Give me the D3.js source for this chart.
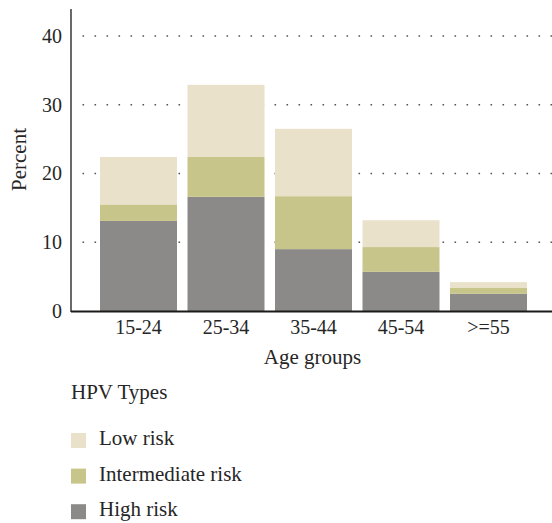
<!DOCTYPE html>
<html>
<head>
<meta charset="utf-8">
<script src="https://cdn.jsdelivr.net/npm/d3@7"></script>
<style>
  html, body { margin: 0; padding: 0; background: #fff; }
  svg { display: block; }
  text { font-family: "Liberation Serif", "Times New Roman", serif; fill: #262626; }
</style>
</head>
<body>
<svg id="chart" width="552" height="523"></svg>
<script>
const categories = ["15-24", "25-34", "35-44", "45-54", ">=55"];
const highRisk = [13.1, 16.6, 9.0, 5.7, 2.5];
const intermediateRisk = [2.4, 5.8, 7.7, 3.6, 0.85];
const lowRisk = [6.9, 10.5, 9.8, 3.9, 0.85];
const yTicks = [0, 10, 20, 30, 40];
const seriesNames = ["High risk", "Intermediate risk", "Low risk"];
const legendOrder = ["Low risk", "Intermediate risk", "High risk"];
const colors = { "High risk": "#8b8a88", "Intermediate risk": "#c8c58a", "Low risk": "#eae1ca" };

const rows = categories.map((c, i) => ({
  cat: c,
  "High risk": highRisk[i],
  "Intermediate risk": intermediateRisk[i],
  "Low risk": lowRisk[i]
}));
const stacked = d3.stack().keys(seriesNames)(rows);

const svg = d3.select("#chart");
const x0 = 71, yBase = 311;
const x = d3.scaleBand().domain(categories).range([94.75, 532.25]).paddingInner(0.12).paddingOuter(0.06);
const y = d3.scaleLinear().domain([0, 40]).range([yBase, 36]);

// gridlines
svg.append("g").selectAll("line").data(yTicks.filter(t => t > 0)).join("line")
  .attr("x1", 82.5).attr("x2", 552)
  .attr("y1", d => y(d)).attr("y2", d => y(d))
  .attr("stroke", "#555").attr("stroke-width", 1.6)
  .attr("stroke-dasharray", "1.6 10.4");

// bars
svg.append("g").selectAll("g").data(stacked).join("g")
  .attr("fill", d => colors[d.key])
  .selectAll("rect").data(d => d).join("rect")
  .attr("x", d => x(d.data.cat))
  .attr("width", x.bandwidth())
  .attr("y", d => y(d[1]))
  .attr("height", d => y(d[0]) - y(d[1]));

// y axis
const yAxis = svg.append("g").attr("transform", `translate(${x0},0)`)
  .call(d3.axisLeft(y).tickValues(yTicks).tickSize(0).tickPadding(9));
yAxis.select(".domain").remove();
yAxis.selectAll("text").style("font-size", "20px").style("font-family", "Liberation Serif").attr("fill", "#262626");
svg.append("line").attr("x1", x0).attr("x2", x0).attr("y1", 9).attr("y2", yBase + 1)
  .attr("stroke", "#444").attr("stroke-width", 1.6);

// x axis
const xAxis = svg.append("g").attr("transform", `translate(0,${yBase})`)
  .call(d3.axisBottom(x).tickSize(0).tickPadding(9));
xAxis.select(".domain").remove();
xAxis.selectAll("text").style("font-size", "20px").style("font-family", "Liberation Serif").attr("fill", "#262626");
svg.append("line").attr("x1", x0).attr("x2", 552).attr("y1", yBase + 0.5).attr("y2", yBase + 0.5)
  .attr("stroke", "#1a1a1a").attr("stroke-width", 1.8);

// axis titles
svg.append("text").attr("x", 312.5).attr("y", 364).attr("text-anchor", "middle")
  .style("font-size", "21px").text("Age groups");
svg.append("text").attr("transform", "translate(26,159.5) rotate(-90)").attr("text-anchor", "middle")
  .style("font-size", "21px").text("Percent");

// legend
svg.append("text").attr("x", 71).attr("y", 399).style("font-size", "21px").text("HPV Types");
const lg = svg.append("g").selectAll("g").data(legendOrder).join("g")
  .attr("transform", (d, i) => `translate(71,${433 + i * 35.6})`);
lg.append("rect").attr("width", 15).attr("height", 15).attr("fill", d => colors[d]);
lg.append("text").attr("x", 28).attr("y", 12.2).style("font-size", "21px").text(d => d);
</script>
</body>
</html>
